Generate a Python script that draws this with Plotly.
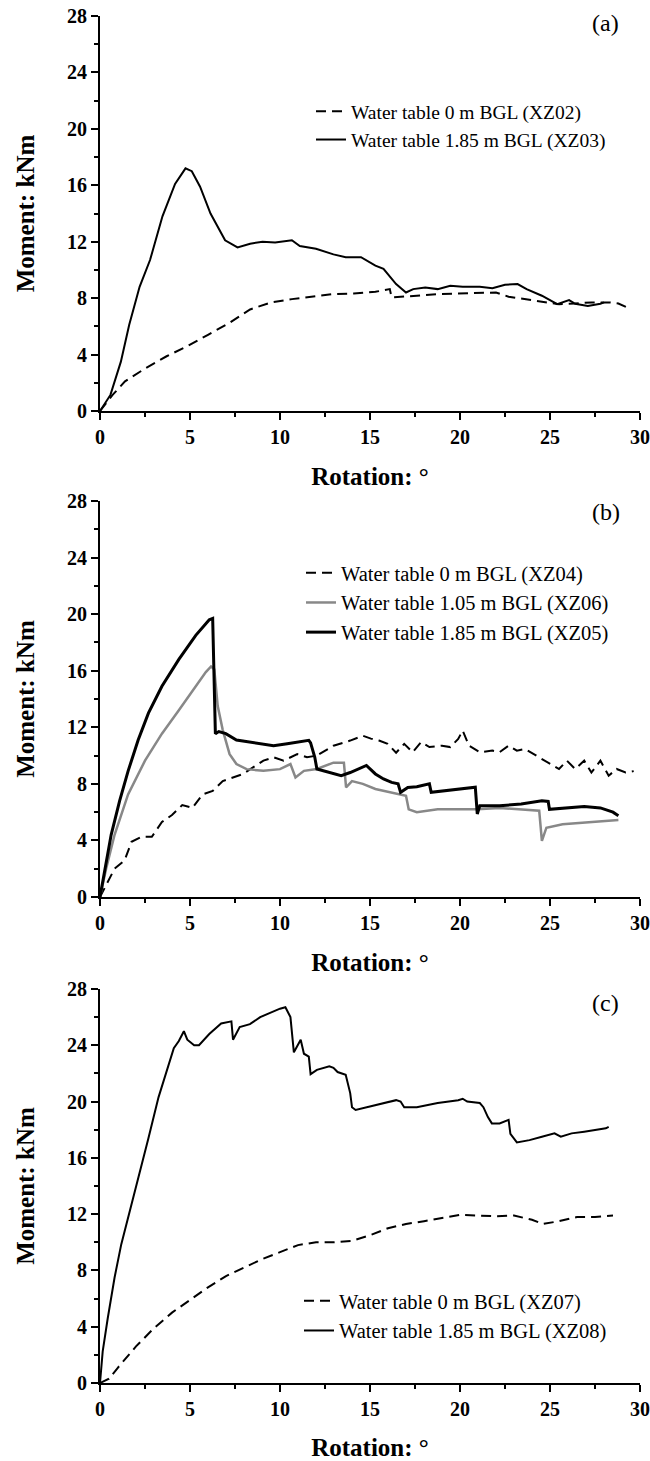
import plotly.graph_objects as go
from plotly.subplots import make_subplots

# ---------------- Panel (a) ----------------
a_xz02_x = [0, 0.7, 1.39, 2.55, 3.7, 4.86, 6.0, 7.2, 8.34, 9.5, 10.66, 11.8, 12.97, 14.1, 15.3, 16.1,
            16.2, 17.6, 18.76, 19.9, 21.1, 22.0, 22.7, 23.6, 24.55, 25.5, 26.4, 27.3, 28.3, 28.8, 29.3]
a_xz02_y = [0, 1.14, 2.1, 3.05, 3.88, 4.6, 5.4, 6.26, 7.2, 7.7, 7.93, 8.1, 8.29, 8.33, 8.45, 8.64,
            8.05, 8.17, 8.29, 8.33, 8.4, 8.4, 8.1, 7.93, 7.7, 7.57, 7.62, 7.7, 7.7, 7.62, 7.33]

a_xz03_x = [0, 0.58, 1.16, 1.62, 2.2, 2.78, 3.47, 4.17, 4.75, 5.1, 5.56, 6.14, 6.95, 7.64, 8.34, 9.03,
            9.73, 10.66, 11.1, 12.0, 12.97, 13.65, 14.5, 15.3, 15.75, 16.45, 17.0, 17.4, 18.07, 18.76,
            19.46, 20.15, 21.1, 21.8, 22.5, 23.2, 23.7, 24.55, 25.4, 26.06, 26.4, 27.1, 27.8, 28.0]
a_xz03_y = [0, 1.14, 3.5, 6.1, 8.8, 10.7, 13.8, 16.1, 17.2, 17.0, 15.9, 14.0, 12.1, 11.6, 11.86, 12.0,
            11.95, 12.1, 11.7, 11.5, 11.1, 10.9, 10.9, 10.3, 10.07, 9.0, 8.4, 8.64, 8.76, 8.64,
            8.88, 8.8, 8.8, 8.7, 8.95, 9.0, 8.64, 8.17, 7.57, 7.86, 7.6, 7.45, 7.6, 7.7]

# ---------------- Panel (b) ----------------
b_xz04_x = [0, 0.43, 0.81, 1.37, 1.75, 2.31, 2.88, 3.44, 4.0, 4.57, 5.13, 5.7, 6.26, 6.82, 7.39, 7.95,
            8.5, 9.08, 9.64, 10.2, 10.96, 11.5, 12.05, 12.97, 13.9, 14.6, 15.05, 15.5, 15.98, 16.45,
            16.9, 17.37, 17.84, 18.3, 19.0, 19.46, 19.9, 20.15, 20.5, 21.1, 21.8, 22.2, 22.7, 23.16,
            23.6, 24.1, 24.55, 25.0, 25.5, 25.94, 26.4, 26.9, 27.3, 27.8, 28.26, 28.7, 29.2, 29.65]
b_xz04_y = [0, 1.03, 2.0, 2.6, 3.9, 4.26, 4.26, 5.3, 5.8, 6.5, 6.3, 7.25, 7.5, 8.2, 8.45, 8.7,
            9.16, 9.64, 9.88, 9.64, 10.1, 9.88, 10.0, 10.7, 11.06, 11.4, 11.2, 11.06, 10.83, 10.2,
            10.83, 10.24, 10.95, 10.6, 10.7, 10.6, 11.18, 11.77, 10.7, 10.24, 10.35, 10.24, 10.7, 10.35,
            10.47, 10.1, 9.76, 9.4, 9.05, 9.64, 9.05, 9.64, 8.8, 9.64, 8.58, 9.05, 8.8, 8.9]

b_xz06_x = [0, 0.34, 0.81, 1.56, 2.5, 3.44, 4.38, 5.32, 5.88, 6.17, 6.35, 6.54, 6.82, 7.2, 7.58, 8.14,
            9.08, 10.0, 10.58, 10.86, 11.33, 12.05, 12.97, 13.55, 13.67, 14.0, 14.6, 15.3, 16.45, 17.0,
            17.15, 17.6, 18.76, 19.9, 20.96, 22.2, 23.4, 24.4, 24.55, 24.8, 25.7, 26.9, 28.0, 28.8]
b_xz06_y = [0, 2.0, 4.4, 7.25, 9.64, 11.55, 13.2, 14.9, 15.9, 16.3, 16.1, 13.5, 11.8, 10.1, 9.4, 9.04,
            8.92, 9.04, 9.4, 8.45, 8.92, 9.05, 9.5, 9.5, 7.75, 8.2, 8.0, 7.64, 7.28, 7.16,
            6.2, 6.0, 6.2, 6.2, 6.2, 6.3, 6.2, 6.1, 3.97, 4.9, 5.15, 5.27, 5.4, 5.44]

b_xz05_x = [0, 0.24, 0.62, 1.09, 1.56, 2.12, 2.69, 3.44, 4.38, 5.32, 6.07, 6.26, 6.41, 6.6, 6.99, 7.58,
            8.33, 9.08, 9.64, 10.4, 10.96, 11.6, 11.7, 11.93, 12.05, 12.74, 13.4, 13.9, 14.6, 14.8,
            15.3, 15.75, 16.2, 16.56, 16.7, 17.1, 17.6, 18.3, 18.4, 19.0, 19.9, 20.85, 20.96, 21.1,
            22.2, 23.4, 24.55, 24.9, 24.97, 25.9, 26.9, 27.8, 28.5, 28.8]
b_xz05_y = [0, 1.75, 4.4, 6.8, 8.9, 11.1, 13.0, 14.9, 16.8, 18.5, 19.6, 19.7, 11.55, 11.7, 11.55, 11.1,
            10.96, 10.84, 10.7, 10.84, 10.96, 11.08, 10.9, 9.9, 9.05, 8.8, 8.58, 8.8, 9.17, 9.3,
            8.7, 8.35, 8.1, 8.0, 7.4, 7.75, 7.8, 8.0, 7.4, 7.5, 7.64, 7.76, 5.87, 6.45,
            6.45, 6.57, 6.8, 6.76, 6.2, 6.3, 6.4, 6.3, 6.0, 5.75]

# ---------------- Panel (c) ----------------
c_xz07_x = [0, 0.5, 1, 2, 3, 4, 5, 6, 7, 8, 9, 10, 11, 12, 13, 14, 15, 16, 17, 18, 19, 20, 21, 22, 23,
            24, 24.6, 25.5, 26.5, 27.5, 28.5]
c_xz07_y = [0, 0.3, 1.1, 2.6, 3.9, 5.0, 5.9, 6.8, 7.6, 8.2, 8.8, 9.3, 9.8, 10.0, 10.0, 10.1, 10.5, 11.0,
            11.3, 11.5, 11.75, 11.95, 11.9, 11.85, 11.9, 11.6, 11.3, 11.5, 11.8, 11.8, 11.9]

c_xz08_x = [0, 0.15, 0.43, 0.81, 1.18, 1.56, 2.12, 2.69, 3.25, 3.72, 4.1, 4.38, 4.66, 4.85, 5.23, 5.5,
            6.07, 6.73, 7.3, 7.39, 7.76, 8.33, 8.9, 9.45, 10.0, 10.3, 10.58, 10.77, 11.15, 11.33, 11.6,
            11.7, 12.05, 12.74, 12.97, 13.2, 13.4, 13.65, 13.9, 14.0, 14.2, 14.8, 15.75, 16.45, 16.7,
            16.9, 17.6, 18.76, 19.9, 20.15, 20.4, 21.1, 21.3, 21.55, 21.77, 22.2, 22.7, 22.8, 23.16,
            23.86, 24.55, 25.25, 25.6, 26.2, 26.9, 27.56, 28.1, 28.26]
c_xz08_y = [0, 2.25, 4.6, 7.5, 9.85, 11.7, 14.6, 17.4, 20.3, 22.3, 23.8, 24.3, 25.0, 24.4, 24.0, 24.0,
            24.8, 25.55, 25.7, 24.4, 25.3, 25.5, 26.0, 26.3, 26.6, 26.7, 26.0, 23.5, 24.4, 23.4, 23.2,
            21.95, 22.25, 22.5, 22.4, 22.1, 22.0, 21.9, 20.6, 19.6, 19.4, 19.6, 19.9, 20.1, 20.0,
            19.6, 19.6, 19.9, 20.1, 20.2, 20.0, 19.9, 19.6, 18.9, 18.45, 18.45, 18.7, 17.7, 17.1,
            17.26, 17.5, 17.74, 17.5, 17.74, 17.86, 17.98, 18.1, 18.2]

x_ticks = [0, 5, 10, 15, 20, 25, 30]
y_ticks = [0, 4, 8, 12, 16, 20, 24, 28]
panel_labels = ["(a)", "(b)", "(c)"]

SERIF = "Liberation Serif, Times New Roman, serif"

fig = make_subplots(rows=3, cols=1, vertical_spacing=0.05)

dash = "10px,6px"
# panel a
fig.add_trace(go.Scatter(x=a_xz02_x, y=a_xz02_y, mode="lines", name="Water table 0 m BGL (XZ02)",
                         line=dict(color="black", width=2, dash=dash), legend="legend"), row=1, col=1)
fig.add_trace(go.Scatter(x=a_xz03_x, y=a_xz03_y, mode="lines", name="Water table 1.85 m BGL (XZ03)",
                         line=dict(color="black", width=2), legend="legend"), row=1, col=1)
# panel b
fig.add_trace(go.Scatter(x=b_xz04_x, y=b_xz04_y, mode="lines", name="Water table 0 m BGL (XZ04)",
                         line=dict(color="black", width=2, dash=dash), legend="legend2"), row=2, col=1)
fig.add_trace(go.Scatter(x=b_xz06_x, y=b_xz06_y, mode="lines", name="Water table 1.05 m BGL (XZ06)",
                         line=dict(color="#888888", width=2.5), legend="legend2"), row=2, col=1)
fig.add_trace(go.Scatter(x=b_xz05_x, y=b_xz05_y, mode="lines", name="Water table 1.85 m BGL (XZ05)",
                         line=dict(color="black", width=3), legend="legend2"), row=2, col=1)
# panel c
fig.add_trace(go.Scatter(x=c_xz07_x, y=c_xz07_y, mode="lines", name="Water table 0 m BGL (XZ07)",
                         line=dict(color="black", width=2, dash=dash), legend="legend3"), row=3, col=1)
fig.add_trace(go.Scatter(x=c_xz08_x, y=c_xz08_y, mode="lines", name="Water table 1.85 m BGL (XZ08)",
                         line=dict(color="black", width=2), legend="legend3"), row=3, col=1)

# plot area pixel geometry -> paper domains
TOP, BOTTOM = 16, 1383
span = BOTTOM - TOP
def dom(top_px, bot_px):
    return [(BOTTOM - bot_px) / span, (BOTTOM - top_px) / span]

domains = [dom(16, 411), dom(501, 897), dom(989, 1383)]
label_y = [0.982, 0.972, 0.965]

for i in range(3):
    xa = "xaxis" if i == 0 else f"xaxis{i+1}"
    ya = "yaxis" if i == 0 else f"yaxis{i+1}"
    fig.layout[xa].update(
        range=[0, 30], tickvals=x_ticks, ticks="outside", ticklen=7, tickwidth=1.5, tickcolor="black",
        showline=True, linecolor="black", linewidth=2, showgrid=False, zeroline=False,
        minor=dict(dtick=2.5, tick0=0, ticks="outside", ticklen=4, tickwidth=1.5, tickcolor="black"),
        tickfont=dict(family=SERIF, size=20, color="black", weight="bold"),
        title=dict(text="Rotation: °", font=dict(family=SERIF, size=25, color="black", weight="bold"),
                   standoff=20),
        automargin=False,
    )
    fig.layout[ya].update(
        domain=domains[i], range=[0, 28], tickvals=y_ticks, ticks="outside", ticklen=7, tickwidth=1.5,
        tickcolor="black", showline=True, linecolor="black", linewidth=2, showgrid=False, zeroline=False,
        minor=dict(dtick=2, tick0=0, ticks="outside", ticklen=4, tickwidth=1.5, tickcolor="black"),
        tickfont=dict(family=SERIF, size=20, color="black", weight="bold"),
        title=dict(text="Moment: kNm", font=dict(family=SERIF, size=25, color="black", weight="bold"),
                   standoff=25),
        automargin=False,
    )
    fig.add_annotation(text=panel_labels[i], xref=f"x{'' if i == 0 else i+1} domain",
                       yref=f"y{'' if i == 0 else i+1} domain", x=0.937, y=label_y[i],
                       xanchor="center", yanchor="middle", showarrow=False,
                       font=dict(family=SERIF, size=24, color="black"))

def pap(px):
    return (BOTTOM - px) / span

legend_common = dict(bgcolor="rgba(0,0,0,0)", borderwidth=0, xanchor="left", yanchor="top",
                     itemclick=False, tracegroupgap=0)
fig.update_layout(
    legend=dict(x=(311 - 100) / 540, y=pap(92), font=dict(family=SERIF, size=19.5, color="black"),
                **legend_common),
    legend2=dict(x=(301 - 100) / 540, y=pap(553), font=dict(family=SERIF, size=20.5, color="black"),
                 **legend_common),
    legend3=dict(x=(299 - 100) / 540, y=pap(1281), font=dict(family=SERIF, size=20.5, color="black"),
                 **legend_common),
)

fig.update_layout(
    width=650, height=1461,
    margin=dict(l=100, r=10, t=TOP, b=1461 - BOTTOM),
    plot_bgcolor="white", paper_bgcolor="white",
    showlegend=True,
)

fig.write_html("out.html")
